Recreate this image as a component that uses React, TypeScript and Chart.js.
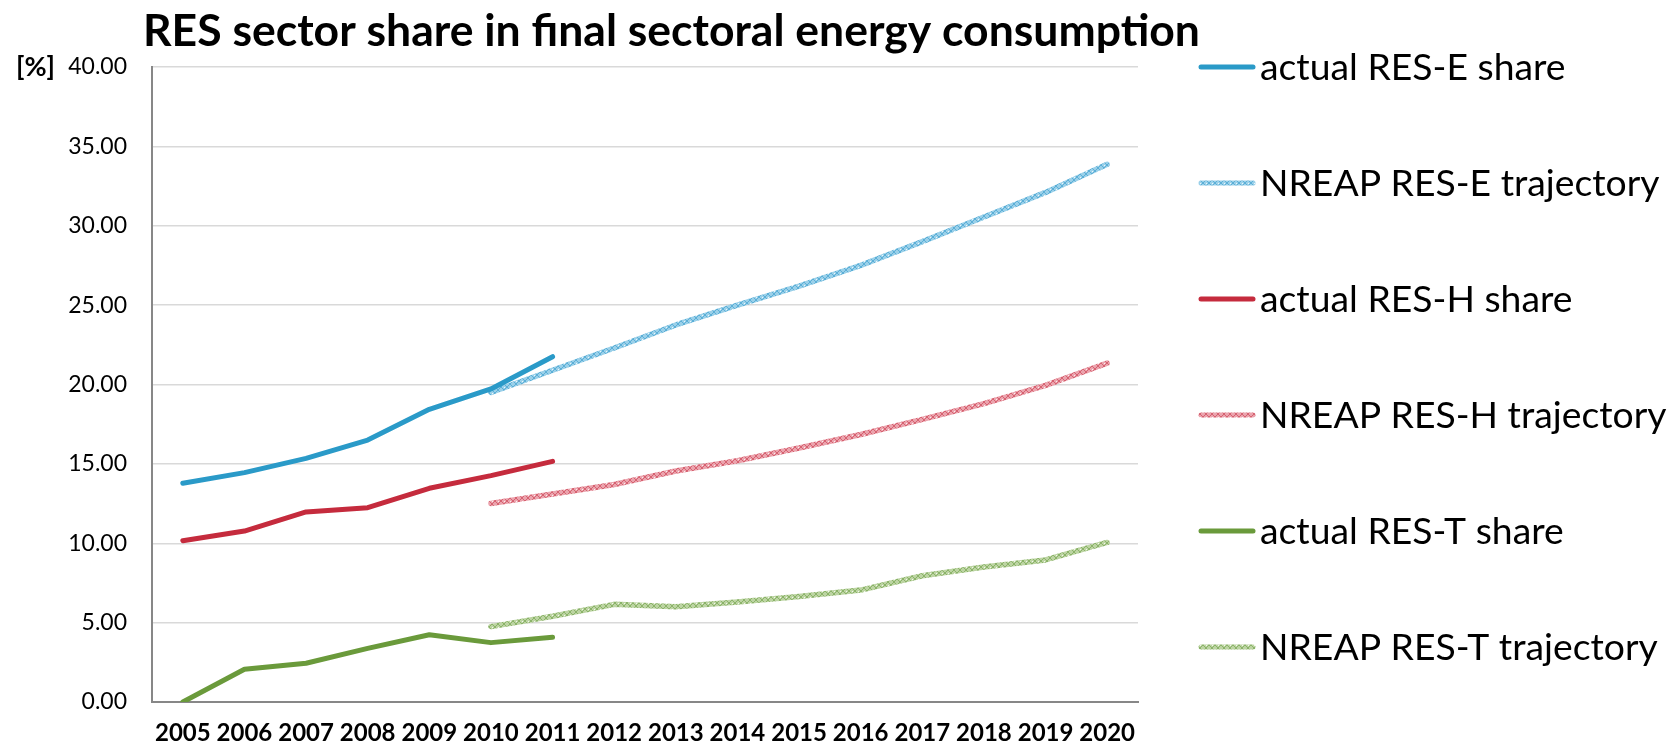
import React, { useEffect, useRef } from "react";
import { Chart, registerables } from "chart.js";
Chart.register(...registerables);

const years = ["2005", "2006", "2007", "2008", "2009", "2010", "2011", "2012", "2013", "2014", "2015", "2016", "2017", "2018", "2019", "2020"];
const actualE = [13.78, 14.45, 15.35, 16.5, 18.44, 19.72, 21.75, null, null, null, null, null, null, null, null, null];
const nreapE = [null, null, null, null, null, 19.5, 20.9, 22.3, 23.75, 25.0, 26.2, 27.5, 29.0, 30.55, 32.1, 33.87];
const actualH = [10.16, 10.77, 11.97, 12.24, 13.46, 14.26, 15.16, null, null, null, null, null, null, null, null, null];
const nreapH = [null, null, null, null, null, 12.5, 13.1, 13.7, 14.55, 15.2, 16.0, 16.85, 17.8, 18.8, 19.95, 21.35];
const actualT = [0.0, 2.06, 2.44, 3.38, 4.24, 3.74, 4.08, null, null, null, null, null, null, null, null, null];
const nreapT = [null, null, null, null, null, 4.75, 5.4, 6.15, 6.0, 6.3, 6.65, 7.05, 7.95, 8.5, 8.95, 10.05];
const seriesLabels = [
  "actual RES-E share",
  "NREAP RES-E trajectory",
  "actual RES-H share",
  "NREAP RES-H trajectory",
  "actual RES-T share",
  "NREAP RES-T trajectory",
];
const titleText = "RES sector share in final sectoral energy consumption";
const yUnit = "[%]";
const yMin = 0;
const yMax = 40;
const yStep = 5;

function makePattern(ctx: CanvasRenderingContext2D, base: string, mark: string) {
  const c = document.createElement("canvas");
  c.width = 6;
  c.height = 6;
  const g = c.getContext("2d")!;
  g.fillStyle = base;
  g.fillRect(0, 0, 6, 6);
  g.strokeStyle = mark;
  g.lineWidth = 0.9;
  g.beginPath();
  g.moveTo(0, 0);
  g.lineTo(6, 6);
  g.moveTo(6, 0);
  g.lineTo(0, 6);
  g.stroke();
  g.fillStyle = "rgba(255,255,255,0.8)";
  g.fillRect(0, 3, 1, 1);
  return ctx.createPattern(c, "repeat")!;
}

export default function App() {
  const ref = useRef<HTMLCanvasElement | null>(null);
  useEffect(() => {
    const canvas = ref.current!;
    const ctx = canvas.getContext("2d")!;
    const patE = makePattern(ctx, "#9ad0e9", "#55acd5");
    const patH = makePattern(ctx, "#eba3ad", "#d45a6a");
    const patT = makePattern(ctx, "#bcd4a2", "#86af62");

    const datasets = [
      { label: seriesLabels[0], data: actualE, borderColor: "#2a9ac8", borderWidth: 5 },
      { label: seriesLabels[1], data: nreapE, borderColor: patE, borderWidth: 5.5 },
      { label: seriesLabels[2], data: actualH, borderColor: "#c52b3d", borderWidth: 5 },
      { label: seriesLabels[3], data: nreapH, borderColor: patH, borderWidth: 5.5 },
      { label: seriesLabels[4], data: actualT, borderColor: "#6a9a3b", borderWidth: 5 },
      { label: seriesLabels[5], data: nreapT, borderColor: patT, borderWidth: 5.5 },
    ].map((d) => ({
      ...d,
      backgroundColor: d.borderColor,
      pointRadius: 0,
      pointHoverRadius: 0,
      tension: 0,
      spanGaps: false,
      borderCapStyle: "round" as const,
      borderJoinStyle: "round" as const,
      fill: false,
    }));

    const decor = {
      id: "decor",
      afterDraw(chart: any) {
        const c = chart.ctx as CanvasRenderingContext2D;
        c.save();
        // title
        c.fillStyle = "#000";
        c.font = "bold 44.5px Lato";
        c.textAlign = "left";
        c.textBaseline = "alphabetic";
        c.fillText(titleText, 143, 46);
        // unit label
        c.font = "bold 27px Lato";
        c.textBaseline = "middle";
        c.fillText(yUnit, 16, chart.scales.y.getPixelForValue(yMax));
        // legend
        c.font = "37.3px Lato";
        chart.data.datasets.forEach((ds: any, i: number) => {
          const y = 67 + i * 116;
          c.strokeStyle = ds.borderColor;
          c.lineWidth = 5;
          c.lineCap = "round";
          c.beginPath();
          c.moveTo(1201, y);
          c.lineTo(1253, y);
          c.stroke();
          c.fillStyle = "#000";
          c.fillText(ds.label, 1260, y + 1);
        });
        c.restore();
      },
    };

    const chart = new Chart(canvas, {
      type: "line",
      data: { labels: years, datasets: datasets as any },
      options: {
        responsive: false,
        animation: false,
        events: [],
        layout: { padding: { top: 67, left: 0, right: 535, bottom: 0 } },
        plugins: {
          legend: { display: false },
          title: { display: false },
          tooltip: { enabled: false },
        },
        scales: {
          x: {
            type: "category",
            offset: true,
            grid: { display: false, drawTicks: false },
            border: { display: true, color: "#878787", width: 2 },
            ticks: {
              color: "#000",
              font: { family: "Lato", size: 24, weight: "bold" },
              padding: 17,
              maxRotation: 0,
              autoSkip: false,
            },
            afterFit: (s: any) => {
              s.height = 47;
            },
          },
          y: {
            min: yMin,
            max: yMax,
            grid: { color: "#d9d9d9", lineWidth: 1.5, drawTicks: false },
            border: { display: true, color: "#878787", width: 2 },
            ticks: {
              stepSize: yStep,
              color: "#000",
              font: { family: "Lato", size: 23 },
              padding: 25,
              callback: (v: any) => Number(v).toFixed(2),
            },
            afterFit: (s: any) => {
              s.width = 152;
            },
          },
        },
      },
      plugins: [decor],
    });
    return () => chart.destroy();
  }, []);

  return (
    <div style={{ position: "fixed", left: 0, top: 0, width: 1673, height: 749, background: "#fff" }}>
      <canvas ref={ref} width={1673} height={749} style={{ width: 1673, height: 749, display: "block" }} />
    </div>
  );
}
